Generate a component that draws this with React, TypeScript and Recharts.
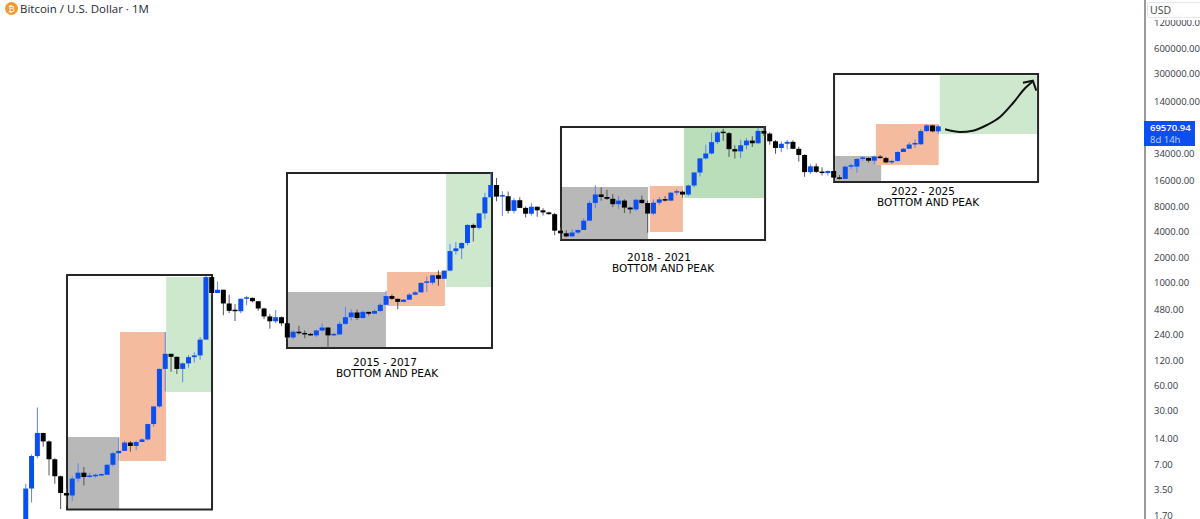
import { Bar, Cell, ComposedChart, Line, ReferenceArea, XAxis, YAxis } from 'recharts';

const firstX = 4; // Apr 2011 sits four slots in from the left edge
const slotCount = 197;
const UP = '#0c4ff0';
const DOWN = '#000000';

const closes = [
  3.5, 8.5, 16, 12.7, 7.8, 4.9, 3.1, 2.9, 4.6,
  5.4, 4.8, 4.9, 5, 5.1, 6.7, 9.2, 9.8, 12.3, 11.2, 12.5, 13.4,
  20.4, 33, 92, 139, 128, 92, 107, 127, 133, 205, 1130, 732,
  800, 550, 450, 445, 625, 640, 585, 480, 386, 338, 378, 320,
  217, 254, 244, 236, 230, 263, 285, 230, 236, 315, 378, 430,
  370, 437, 416, 448, 530, 673, 625, 575, 610, 700, 745, 965,
  970, 1190, 1080, 1350, 2300, 2480, 2870, 4700, 4340, 6450, 10000, 14000,
  10200, 10300, 6900, 9240, 7490, 6390, 7730, 7010, 6620, 6310, 4020, 3740,
  3440, 3820, 4100, 5280, 8570, 10820, 10080, 9600, 8290, 9150, 7550, 7190,
  9350, 8540, 6410, 8630, 9450, 9140, 11350, 11650, 10780, 13800, 19700, 28950,
  33110, 45200, 58800, 57700, 37300, 35050, 41460, 47130, 43800, 61300, 57000, 46200,
  38500, 43200, 45500, 37600, 31800, 19900, 23300, 20050, 19400, 20500, 17150, 16550,
  23100, 23150, 28500, 29250, 27200, 30450, 29200, 25950, 27000, 34500, 37700, 42300,
  42600, 61100, 71300, 60600, 69570.94,
];

const opens = [
  0.8, 3.5, 8.5, 16, 12.7, 7.8, 4.9, 3.1, 2.9,
  4.6, 5.4, 4.8, 4.9, 5, 5.1, 6.7, 9.2, 9.8, 12.3, 11.2, 12.5,
  13.4, 20.4, 33, 92, 139, 128, 92, 107, 127, 133, 205, 1130,
  732, 800, 550, 450, 445, 625, 640, 585, 480, 386, 338, 378,
  320, 217, 254, 244, 236, 230, 263, 285, 230, 236, 315, 378,
  430, 370, 437, 416, 448, 530, 673, 625, 575, 610, 700, 745,
  965, 970, 1190, 1080, 1350, 2300, 2480, 2870, 4700, 4340, 6450, 10000,
  14000, 10200, 10300, 6900, 9240, 7490, 6390, 7730, 7010, 6620, 6310, 4020,
  3740, 3440, 3820, 4100, 5280, 8570, 10820, 10080, 9600, 8290, 9150, 7550,
  7190, 9350, 8540, 6410, 8630, 9450, 9140, 11350, 11650, 10780, 13800, 19700,
  28950, 33110, 45200, 58800, 57700, 37300, 35050, 41460, 47130, 43800, 61300, 57000,
  46200, 38500, 43200, 45500, 37600, 31800, 19900, 23300, 20050, 19400, 20500, 17150,
  16550, 23100, 23150, 28500, 29250, 27200, 30450, 29200, 25950, 27000, 34500, 37700,
  42300, 42600, 61100, 71300, 60600,
];

const highs = [
  4, 8.9, 32, 15.9, 13, 8, 5, 3.5, 4.9,
  7, 6.3, 5.4, 5.3, 5.3, 6.9, 9.6, 14, 12.9, 12.8, 13, 13.8,
  20.6, 33, 93, 252, 139, 129, 110, 135, 145, 220, 1163, 1132,
  1000, 800, 700, 540, 630, 680, 650, 590, 490, 415, 460, 385,
  320, 265, 300, 265, 245, 268, 320, 285, 245, 335, 500, 470,
  465, 450, 440, 470, 555, 780, 705, 625, 620, 730, 775, 975,
  1150, 1200, 1350, 1350, 2800, 2950, 2900, 4800, 4900, 6450, 11300, 19600,
  17000, 11800, 11700, 9760, 10020, 7760, 8480, 7760, 7400, 6750, 6570, 4400,
  4070, 4200, 4100, 5650, 9080, 13900, 13200, 12330, 10950, 10370, 9510, 7750,
  9600, 10500, 9190, 9460, 10070, 10380, 11450, 12480, 12050, 14100, 19900, 29300,
  41950, 58350, 61800, 64900, 59500, 41300, 48100, 50500, 52900, 67000, 69000, 59000,
  47900, 45800, 48200, 47400, 39900, 32400, 24700, 25200, 22800, 21000, 21500, 18400,
  23900, 25200, 29200, 31000, 29800, 31400, 31800, 30200, 28000, 35200, 38400, 45000,
  48900, 64000, 73800, 72800, 71900,
];

const lows = [
  0.6, 2.4, 8, 11, 5, 4, 2, 2.2, 2.5,
  4.2, 3.8, 4.7, 4.7, 4.9, 5.1, 6.4, 7.5, 9.8, 9.6, 10, 12.5,
  13, 19, 32, 50, 85, 80, 64, 95, 110, 118, 205, 700,
  730, 400, 425, 340, 420, 525, 565, 450, 360, 275, 320, 300,
  205, 205, 235, 212, 228, 220, 255, 163, 225, 236, 305, 345,
  350, 365, 395, 416, 440, 530, 610, 470, 570, 605, 690, 745,
  750, 920, 890, 1080, 1330, 2100, 1850, 2700, 3000, 4150, 5500, 10700,
  9000, 6000, 6430, 6430, 7450, 5750, 6070, 5880, 6100, 6200, 3550, 3120,
  3350, 3380, 3680, 4100, 5330, 7440, 9100, 9320, 7700, 7300, 6500, 6430,
  6850, 8450, 3800, 6150, 8100, 8900, 8970, 10530, 9880, 10370, 13200, 17600,
  28100, 32300, 43000, 46900, 30000, 28800, 29300, 37300, 39600, 43300, 53300, 42000,
  32900, 34300, 37100, 37600, 26500, 17500, 18900, 19500, 18100, 18200, 15500, 16300,
  16500, 21400, 19500, 27000, 25800, 24700, 28800, 25300, 24900, 26500, 34700, 37600,
  38500, 42000, 59000, 59100, 56500,
];

const priceTicks = [
  1.7, 3.5, 7, 14, 30, 60, 120, 240, 480, 1000, 2000, 4000, 8000, 16000, 34000, 140000, 300000, 600000, 1200000,
];

// x1, x2 in month slots, y1/y2 in price
const frames = [
  { x1: 11.03, x2: 35.98, y1: 1.975, y2: 1197 },
  { x1: 48.88, x2: 84.15, y1: 163, y2: 19430 },
  { x1: 96.02, x2: 131.13, y1: 3116, y2: 68300 },
  { x1: 143, x2: 178.1, y1: 15200, y2: 290600 },
];
const grayZones = [
  { x1: 11.2, x2: 20, y1: 1.975, y2: 14.3 },
  { x1: 49.05, x2: 65.9, y1: 163, y2: 752 },
  { x1: 96.2, x2: 111, y1: 3116, y2: 13265 },
  { x1: 143.2, x2: 151.1, y1: 15200, y2: 30900 },
];
const orangeZones = [
  { x1: 20.15, x2: 28.05, y1: 7.43, y2: 252 },
  { x1: 66.1, x2: 76.05, y1: 513, y2: 1300 },
  { x1: 111.3, x2: 117, y1: 3877, y2: 13600 },
  { x1: 150.2, x2: 161, y1: 24180, y2: 74100 },
];
const greenZones = [
  { x1: 28.1, x2: 35.8, y1: 49, y2: 1133, fill: '#cde8cd' },
  { x1: 76.25, x2: 84, y1: 863, y2: 19000, fill: '#cde8cd' },
  { x1: 117.2, x2: 130.95, y1: 9814, y2: 66400, fill: '#b9deb9' },
  { x1: 161.2, x2: 177.9, y1: 56400, y2: 280000, fill: '#cde8cd' },
];

const arrowCurve = [
  { x: 162.1, price: 64140 },
  { x: 164.7, price: 59580 },
  { x: 166.9, price: 61700 },
  { x: 169.3, price: 72100 },
  { x: 171.6, price: 90500 },
  { x: 173.8, price: 131600 },
  { x: 175.9, price: 198100 },
  { x: 177.1, price: 235500 },
];
const arrowHead = [
  { x: 175.5, price: 229000 },
  { x: 177.2, price: 241900 },
  { x: 177.8, price: 184100 },
];

const notes = [
  { year: '2015 - 2017', yearLeft: 385, left: 387, top: 355 },
  { year: '2018 - 2021', yearLeft: 659, left: 663, top: 250 },
  { year: '2022 - 2025', yearLeft: 923, left: 928, top: 184 },
];

const rows = closes.map((close, i) => ({
  x: i + firstX,
  wick: [lows[i], highs[i]],
  body: [Math.min(opens[i], close), Math.max(opens[i], close)],
  up: close >= opens[i],
}));

const domainX = [-0.5, slotCount - 0.5];
const font = '"Open Sans", sans-serif';

export default function App() {
  return (
    <div style={{ position: 'absolute', left: 0, top: 0, width: 1200, height: 519, overflow: 'hidden', background: '#fff' }}>
      <ComposedChart width={1200} height={519} data={rows} margin={{ top: 0, right: 0, bottom: 0, left: 0 }}>
        <XAxis xAxisId="wick" dataKey="x" type="number" domain={domainX} allowDataOverflow hide />
        <XAxis xAxisId="body" dataKey="x" type="number" domain={domainX} allowDataOverflow hide />
        <XAxis xAxisId="arrow" dataKey="x" type="number" domain={domainX} allowDataOverflow hide />
        <YAxis
          orientation="right"
          scale="log"
          domain={[1.524, 2194000]}
          allowDataOverflow
          ticks={priceTicks}
          interval={0}
          width={55}
          tickLine={false}
          axisLine={{ stroke: '#9a9a9a', strokeWidth: 2 }}
          tickMargin={3}
          tick={{ fill: '#33363f', fontSize: 9.5, fontFamily: font, textAnchor: 'start', dy: 1 }}
          tickFormatter={(val: number) => val.toFixed(2)}
        />
        {grayZones.map((z, i) => (
          <ReferenceArea key={`g${i}`} xAxisId="arrow" {...z} fill="#b8b8b8" fillOpacity={1} stroke="none" />
        ))}
        {greenZones.map((z, i) => (
          <ReferenceArea key={`n${i}`} xAxisId="arrow" {...z} fillOpacity={1} stroke="none" />
        ))}
        {orangeZones.map((z, i) => (
          <ReferenceArea key={`o${i}`} xAxisId="arrow" {...z} fill="#f4bb9e" fillOpacity={1} stroke="none" />
        ))}
        {frames.map((z, i) => (
          <ReferenceArea key={`f${i}`} xAxisId="arrow" {...z} fill="none" stroke="#262626" strokeWidth={2} />
        ))}
        <Bar xAxisId="wick" dataKey="wick" barSize={1} isAnimationActive={false}>
          {rows.map((r) => (
            <Cell key={r.x} fill={r.up ? '#5c86ee' : '#555555'} />
          ))}
        </Bar>
        <Bar xAxisId="body" dataKey="body" barSize={5} minPointSize={1.5} isAnimationActive={false}>
          {rows.map((r) => (
            <Cell key={r.x} fill={r.up ? UP : DOWN} />
          ))}
        </Bar>
        <Line
          xAxisId="arrow"
          data={arrowCurve}
          dataKey="price"
          type="monotone"
          stroke="#111"
          strokeWidth={2}
          dot={false}
          activeDot={false}
          isAnimationActive={false}
        />
        <Line
          xAxisId="arrow"
          data={arrowHead}
          dataKey="price"
          type="linear"
          stroke="#111"
          strokeWidth={2}
          dot={false}
          activeDot={false}
          isAnimationActive={false}
        />
      </ComposedChart>

      {/* header */}
      <div style={{ position: 'absolute', left: 5, top: 2, width: 13, height: 13, borderRadius: '50%', background: '#f39a2c', color: '#fff', fontSize: 9, lineHeight: '13px', textAlign: 'center', fontFamily: font }}>
        ₿
      </div>
      <div style={{ position: 'absolute', left: 20, top: 0, fontFamily: font, fontSize: 11.5, lineHeight: '17px', color: '#26282f', whiteSpace: 'nowrap' }}>
        Bitcoin / U.S. Dollar · 1M
      </div>

      {/* scale box and last price tag */}
      <div style={{ position: 'absolute', left: 1146, top: 0, width: 54, height: 20, background: '#fff' }} />
      <div style={{ position: 'absolute', left: 1147, top: 2, width: 60, height: 14, background: '#fff', border: '1px solid #e4e6ec', borderRadius: 2, fontFamily: font, fontSize: 10.5, lineHeight: '14px', color: '#3c3f4a', paddingLeft: 2 }}>
        USD
      </div>
      <div style={{ position: 'absolute', left: 1144, top: 121, width: 51, height: 25, background: '#0c4ff0', fontFamily: font, fontSize: 9.5, fontWeight: 600, lineHeight: '11.5px', color: '#fff', paddingLeft: 6, boxSizing: 'border-box', paddingTop: 1 }}>
        69570.94
        <br />
        <span style={{ color: '#c3d3fb', fontWeight: 400 }}>8d 14h</span>
      </div>

      {/* captions under the frames */}
      {notes.map((n) => (
        <div key={n.year}>
          <div style={{ position: 'absolute', left: n.yearLeft - 60, width: 120, top: n.top, textAlign: 'center', fontFamily: '"DejaVu Sans", sans-serif', fontSize: 10.5, lineHeight: '14px', color: '#000' }}>
            {n.year}
          </div>
          <div style={{ position: 'absolute', left: n.left - 70, width: 140, top: n.top + 11, textAlign: 'center', fontFamily: '"DejaVu Sans", sans-serif', fontSize: 10.5, lineHeight: '14px', color: '#000' }}>
            BOTTOM AND PEAK
          </div>
        </div>
      ))}
    </div>
  );
}
